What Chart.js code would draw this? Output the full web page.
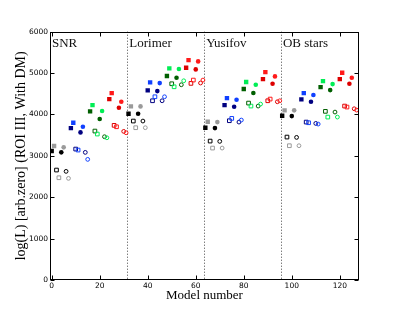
<!DOCTYPE html>
<html>
<head>
<meta charset="utf-8">
<script src="https://cdn.jsdelivr.net/npm/chart.js@4.4.0/dist/chart.umd.min.js"></script>
<style>
  html, body { margin: 0; padding: 0; background: #fff; }
  #wrap { width: 399px; height: 312px; }
</style>
</head>
<body>
<div id="wrap"><canvas id="myChart" width="399" height="312"></canvas></div>
<script>
// luminosity per model, 32 models per distribution
let groupNames = ['SNR', 'Lorimer', 'Yusifov', 'OB stars'];
let snrValues = [3116, 3237, 2657, 2471, 3084, 3205, 2625, 2456,
                 3671, 3800, 3164, 3140, 3567, 3703, 3084, 2915,
                 4075, 4227, 3599, 3527, 3889, 4082, 3462, 3437,
                 4372, 4517, 3737, 3703, 4162, 4307, 3591, 3558];
let lorimerValues = [4017, 4195, 3841, 3680, 4017, 4195, 3841, 3680,
                     4582, 4775, 4331, 4428, 4565, 4758, 4331, 4428,
                     4928, 5113, 4742, 4669, 4887, 5097, 4718, 4814,
                     5128, 5314, 4751, 4831, 5089, 5282, 4760, 4831];
let yusifovValues = [3680, 3824, 3357, 3188, 3671, 3816, 3350, 3188,
                     4227, 4396, 3849, 3905, 4187, 4356, 3816, 3865,
                     4614, 4783, 4275, 4203, 4517, 4718, 4203, 4251,
                     4855, 5024, 4331, 4372, 4742, 4920, 4307, 4331];
let obStarsValues = [3969, 4099, 3454, 3245, 3961, 4099, 3446, 3245,
                     4364, 4517, 3816, 3800, 4307, 4469, 3784, 3768,
                     4662, 4807, 4075, 3937, 4589, 4734, 4058, 3937,
                     4855, 5008, 4203, 4179, 4742, 4887, 4138, 4106];
let xTickValues = [0, 20, 40, 60, 80, 100, 120];
let yTickValues = [0, 1000, 2000, 3000, 4000, 5000, 6000];

let allGroups = [snrValues, lorimerValues, yusifovValues, obStarsValues];

// dark / light shade for each block of 8 models
let palette = [
    ['#000000', '#9a9a9a'],
    ['#000080', '#1040ff'],
    ['#005f00', '#00ee55'],
    ['#dd0000', '#ff1a1a']
];

function colorFor(i) {
    return palette[Math.floor(i / 8) % 4][i % 2];
}
function isOpen(i) {
    return (i % 4) >= 2;
}
function isSquare(i) {
    return (i % 8) < 4;
}

let offset = 0;
let datasets = allGroups.map((vals, g) => {
    let start = offset;
    offset += vals.length;
    return {
        label: groupNames[g],
        data: vals.map((v, i) => ({ x: start + i, y: v })),
        pointStyle: c => isSquare(c.dataIndex) ? 'rect' : 'circle',
        pointRadius: c => {
            let i = c.dataIndex;
            if (isSquare(i)) return isOpen(i) ? 2.6 : 3.1;
            return isOpen(i) ? 1.9 : 2.3;
        },
        pointHoverRadius: 3,
        backgroundColor: c => isOpen(c.dataIndex) ? 'rgba(0,0,0,0)' : colorFor(c.dataIndex),
        borderColor: c => colorFor(c.dataIndex),
        borderWidth: c => isOpen(c.dataIndex) ? 1 : 0,
        showLine: false
    };
});

// section boundaries between the distributions
let dividers = [];
let acc = 0;
for (let g = 0; g < allGroups.length - 1; g++) {
    acc += allGroups[g].length;
    dividers.push(acc - 0.5);
}

let frame = {
    id: 'frame',
    beforeDatasetsDraw(chart) {
        let c = chart.ctx, a = chart.chartArea, xs = chart.scales.x;
        c.save();
        c.strokeStyle = '#444';
        c.lineWidth = 1;
        c.setLineDash([1, 2]);
        dividers.forEach(d => {
            let px = Math.round(xs.getPixelForValue(d)) + 0.5;
            c.beginPath();
            c.moveTo(px, a.top);
            c.lineTo(px, a.bottom);
            c.stroke();
        });
        c.setLineDash([]);
        // section names
        c.fillStyle = '#111';
        c.font = '13px "Liberation Serif", "DejaVu Serif", serif';
        c.textBaseline = 'alphabetic';
        let starts = [a.left].concat(dividers.map(d => xs.getPixelForValue(d)));
        groupNames.forEach((n, g) => c.fillText(n, starts[g] + 2, a.top + 15.5));
        c.restore();
    },
    afterDraw(chart) {
        let c = chart.ctx, a = chart.chartArea;
        let xs = chart.scales.x, ys = chart.scales.y;
        c.save();
        c.strokeStyle = '#000';
        c.lineWidth = 1;
        let L = Math.round(a.left) + 0.5, R = Math.round(a.right) - 0.5;
        let T = Math.round(a.top) + 0.5, B = Math.round(a.bottom) - 0.5;
        c.strokeRect(L, T, R - L, B - T);
        c.beginPath();
        xTickValues.forEach(v => {
            let px = Math.round(xs.getPixelForValue(v)) + 0.5;
            c.moveTo(px, B); c.lineTo(px, B - 4);
            c.moveTo(px, T); c.lineTo(px, T + 4);
        });
        yTickValues.forEach(v => {
            let py = Math.round(ys.getPixelForValue(v)) + 0.5;
            c.moveTo(L, py); c.lineTo(L + 4, py);
            c.moveTo(R, py); c.lineTo(R - 4, py);
        });
        c.stroke();
        c.restore();
    }
};

let tickFont = { family: '"DejaVu Sans", sans-serif', size: 7.5 };
let titleFont = { family: '"Liberation Serif", "DejaVu Serif", serif', lineHeight: 1.2 };

let ctx = document.getElementById('myChart').getContext('2d');
let myChart = new Chart(ctx, {
    type: 'scatter',
    data: { datasets: datasets },
    options: {
        responsive: false,
        devicePixelRatio: 1,
        animation: false,
        layout: { padding: { left: 0, top: 31.7, right: 40, bottom: 0 } },
        plugins: { legend: { display: false }, tooltip: { enabled: false } },
        scales: {
            x: {
                type: 'linear',
                min: -0.7,
                max: 128,
                afterBuildTicks: s => { s.ticks = xTickValues.map(v => ({ value: v })); },
                afterFit: s => { s.height = 32; },
                grid: { display: false, drawTicks: false },
                border: { display: false },
                ticks: { color: '#000', font: tickFont, padding: 2, maxRotation: 0, callback: v => String(v) },
                title: {
                    display: true,
                    text: 'Model number',
                    color: '#000',
                    font: Object.assign({ size: 13 }, titleFont),
                    padding: { top: 0, bottom: 8.5 }
                }
            },
            y: {
                min: 0,
                max: 6000,
                afterBuildTicks: s => { s.ticks = yTickValues.map(v => ({ value: v })); },
                afterFit: s => { s.width = 50; },
                grid: { display: false, drawTicks: false },
                border: { display: false },
                ticks: { color: '#000', font: tickFont, padding: 2, callback: v => String(v) },
                title: {
                    display: true,
                    text: 'log(L) [arb.zero] (ROI III, With DM)',
                    color: '#000',
                    font: Object.assign({ size: 14 }, titleFont),
                    padding: { top: 12.5, bottom: 0 }
                }
            }
        }
    },
    plugins: [frame]
});
</script>
</body>
</html>
